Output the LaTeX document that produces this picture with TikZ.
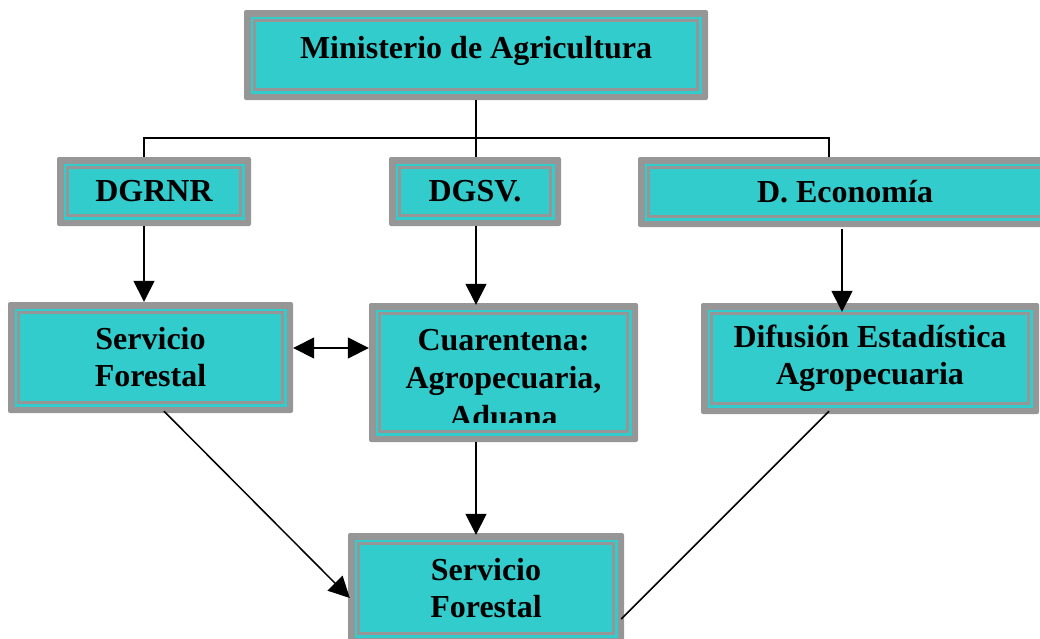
\documentclass[tikz,border=0pt]{standalone}
\usepackage{fontspec}
\setmainfont{Liberation Serif}
\usetikzlibrary{arrows.meta}
\definecolor{boxteal}{RGB}{51,204,204}
\definecolor{boxgrey}{RGB}{150,150,150}

\begin{document}
\begin{tikzpicture}[x=1pt,y=-1pt,
            orgbox/.style={rectangle, rounded corners=2pt, fill=boxgrey, inner sep=0pt, align=center,
                font=\bfseries\fontsize{32}{37}\selectfont,
                path picture={
                    \fill[boxteal, sharp corners] ([shift={(6.5pt,-6.5pt)}]path picture bounding box.north west) rectangle ([shift={(-6.5pt,6.5pt)}]path picture bounding box.south east);
                    \draw[boxgrey, sharp corners, line width=2.3pt] ([shift={(10.5pt,-10.5pt)}]path picture bounding box.north west) rectangle ([shift={(-10.5pt,10.5pt)}]path picture bounding box.south east);
                }},
            boxtext/.style={inner sep=0pt, align=center, font=\bfseries\fontsize{32}{38.5}\selectfont},
            link/.style={line width=1.5pt},
            arr/.style={link, -{Triangle[length=21pt,width=21pt]}},
            dblarr/.style={link, {Triangle[length=21pt,width=21pt]}-{Triangle[length=21pt,width=21pt]}}]
            \useasboundingbox (0,0) rectangle (1040,638);
            \node [orgbox, minimum width=464pt, minimum height=90pt, text depth=16pt] (mina) at (476,55) {Ministerio de Agricultura};
            \node [orgbox, minimum width=194pt, minimum height=69pt] (dgrnr) at (154,191.5) {DGRNR};
            \node [orgbox, minimum width=172pt, minimum height=69pt] (dgsv) at (475,191.5) {DGSV.};
            \node [orgbox, minimum width=414pt, minimum height=70pt] (decon) at (845,192) {D. Economía};
            \node [orgbox, minimum width=285pt, minimum height=111pt] (sfor) at (150.5,357.5) {Servicio\\Forestal};
            \node [orgbox, minimum width=269pt, minimum height=139pt] (cuar) at (503.5,372.5) {};
            \begin{scope}
                \clip (cuar.north west) rectangle ([yshift=20pt]cuar.south east);
                \node [boxtext] (cuartxt) at ([yshift=-6pt]cuar.center) {Cuarentena:\\Agropecuaria,\\Aduana};
            \end{scope}
            \node [orgbox, minimum width=338pt, minimum height=111pt] (difu) at (870,358.5) {Difusión Estadística\\Agropecuaria};
            \node [orgbox, minimum width=276pt, minimum height=111pt] (sfor2) at (486,588.5) {Servicio\\Forestal};

            \coordinate (hl) at (144,138);
            \coordinate (hr) at (829,138);
            \coordinate (econx) at (842,0);
            \coordinate (dy) at (0,348);
            \draw [link] (mina.south) -- (mina.south |- hl);
            \draw [link] (hl |- dgrnr.north) -- (hl) -- (hr) -- (hr |- decon.north);
            \draw [link] (mina.south |- hl) -- (mina.south |- dgsv.north);

            \draw [arr] (hl |- dgrnr.south) -- (hl |- sfor.north);
            \draw [arr] (mina.south |- dgsv.south) -- ([yshift=-2pt]mina.south |- cuar.north);
            \draw [arr] ([yshift=-2pt]econx |- decon.south) -- ([yshift=-9pt]econx |- difu.north);
            \draw [dblarr] (sfor.east |- dy) -- (cuar.west |- dy);
            \draw [arr] (mina.south |- cuar.south) -- ([yshift=-2pt]mina.south |- sfor2.north);
            \draw [arr] ([shift={(13.5pt,2pt)}]sfor.south) -- ([shift={(2pt,-9.5pt)}]sfor2.west);
            \draw [link] ([shift={(-41pt,3pt)}]difu.south) -- ([shift={(-3pt,-30.5pt)}]sfor2.east);
        \end{tikzpicture}
\end{document}
